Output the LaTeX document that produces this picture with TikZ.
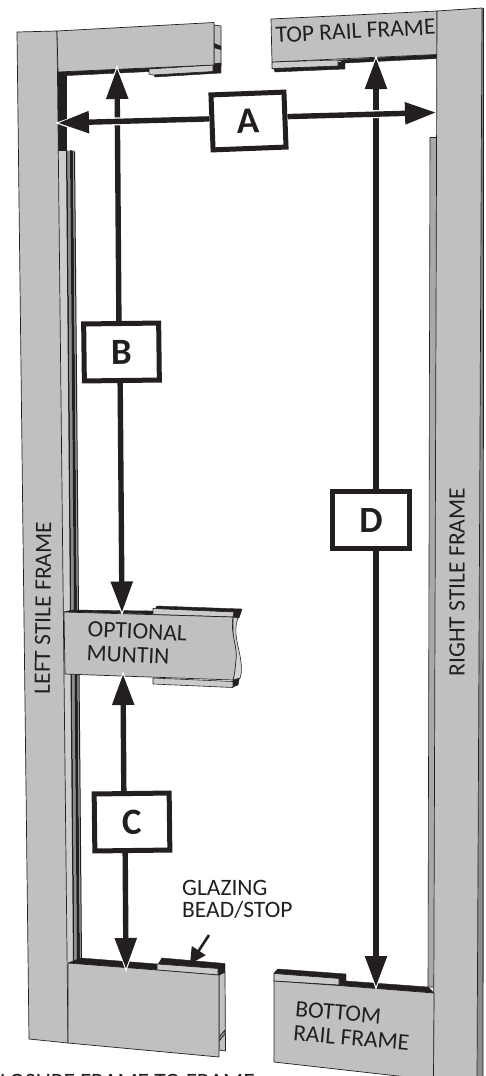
\documentclass[tikz,border=0pt]{standalone}
\usepackage{fontspec}
\setmainfont{Carlito}
\usetikzlibrary{arrows.meta}
\definecolor{ink}{HTML}{231F20}
\definecolor{panel}{HTML}{C0C0C0}
\definecolor{midg}{HTML}{8C8C8C}
\definecolor{lightg}{HTML}{D2D2D2}
\tikzset{
  frameface/.style={fill=panel,draw=ink,line width=0.7pt,line join=round},
  beadface/.style={fill=lightg!60!panel,draw=ink,line width=0.6pt,line join=round},
  darkpart/.style={fill=ink,draw=ink,line width=0.4pt,line join=round},
  label/.style={font=\fontsize{23.5}{24}\selectfont,text=ink,inner sep=0pt,align=left},
  letterbox/.style={draw=ink,fill=white,line width=5pt,inner sep=0pt,
    font=\fontsize{37}{40}\bfseries\selectfont,text=ink},
  dim/.style={draw=ink,line width=5.4pt,-{Triangle[length=31pt,width=21pt,fill=ink]}},
  halo/.style={preaction={draw=white,line width=8pt}},
  tipmark/.style={fill=white,draw=none}
}
\begin{document}
\begin{tikzpicture}[x=1pt,y=-1pt]
\useasboundingbox (0,0) rectangle (485,1076);
\clip (0,0) rectangle (485,1076);
\fill[white] (0,0) rectangle (485,1076);

% left glazing strips
\fill[lightg!70!panel] (58,150) -- (75,150) -- (82,962) -- (66,962) -- cycle;
\fill[ink] (66,151) -- (67.5,151) -- (74.5,962) -- (73,962) -- cycle;
\fill[midg] (67.5,151) -- (70,151) -- (77,962) -- (74.5,962) -- cycle;
\fill[ink] (70,150) -- (73,151) -- (80,962) -- (77,962) -- cycle;
\fill[midg!70!panel] (73,151) -- (74,151) -- (81,962) -- (80,962) -- cycle;
\fill[ink] (74,151) -- (75,152) -- (82,962) -- (81,962) -- cycle;
\fill[ink] (58,72) -- (67,72) -- (67,151) -- (58,151) -- cycle;

% left stile
\draw[frameface] (17,32) -- (57,31) -- (68,1043) -- (29,1039) -- cycle;

% top left rail
\draw[frameface] (214,25) -- (221,26) -- (221,66) -- (214,66) -- cycle;
\fill[ink] (214,43) -- (221,46) -- (221,50) -- (214,48) -- cycle;
\draw[darkpart] (155,77) -- (221,73) -- (221,63) -- (150,68) -- cycle;
\draw[darkpart] (58,72) -- (150,68) -- (150,71.5) -- (58,76) -- cycle;
\draw[beadface] (149,69) -- (213,65) -- (213,71.5) -- (152,75) -- (149,74) -- cycle;
\draw[frameface] (57,31) -- (214,22.5) -- (214,65) -- (58,72) -- cycle;

% top right rail
\draw[darkpart] (275,72) -- (345,69) -- (345,62) -- (272,64) -- cycle;
\draw[darkpart] (338,60) -- (437,54.5) -- (437,58.5) -- (345,63) -- cycle;
\draw[beadface] (272,62) -- (338,60) -- (338,66) -- (272,68.5) -- cycle;
\draw[frameface] (271,19) -- (437,11) -- (437,54.5) -- (272,62) -- cycle;

% right glazing strip
\draw[fill=panel!88!black,draw=ink,line width=0.6pt] (430,137.5) -- (437,137.5) -- (435,987) -- (428,987) -- cycle;

% right stile
\fill[midg] (482,8) -- (483.5,8) -- (483,1076) -- (477,1076) -- cycle;
\draw[ink,line width=0.9pt] (483.5,8) -- (483,1076);
\draw[frameface] (437,11) -- (482,8) -- (477,1080) -- (433.5,1080) -- cycle;

% muntin
\draw[darkpart] (73,610) -- (153,611) -- (153,614) -- (64,612) -- cycle;
\draw[darkpart] (157,606) -- (242,609) -- (239,618) -- (153,612) -- cycle;
\draw[beadface] (153,608.5) -- (234,612) -- (233,617) -- (153,614.5) -- cycle;
\draw[darkpart] (233,680) -- (240,675) -- (238,685) -- (233,687) -- cycle;
\draw[beadface] (153,678) -- (233,681.5) -- (233,687.5) -- (153,684) -- cycle;
\draw[fill=lightg,draw=ink,line width=0.6pt] (238,618) .. controls (232,632) and (240,650) .. (241,662) .. controls (242,672) and (241,676) .. (240,678) -- (233,680) -- (233,617) -- cycle;
\draw[frameface] (64,612) -- (233,617) .. controls (230,632) and (238,648) .. (236,660) .. controls (235,668) and (235,674) .. (233,680) -- (65,674) -- cycle;

% bottom left rail
\draw[frameface] (219,975) -- (225,972) -- (225.5,1051) -- (219,1050) -- cycle;
\draw[ink,line width=0.7pt,fill=midg] (219,1037) -- (225,1030) -- (225,1034) -- (219,1041) -- cycle;
\draw[darkpart] (81,958) -- (157,964) -- (157,970) -- (68,963) -- cycle;
\draw[darkpart] (162,958) -- (225,963.5) -- (225,972) -- (218,975) -- (157,966) -- cycle;
\draw[beadface] (157,964) -- (218,968.5) -- (218,975) -- (157,970) -- cycle;
\draw[frameface] (68,963) -- (157,970) -- (219,975) -- (219,1057) -- (68,1043) -- cycle;

% bottom right rail
\draw[darkpart] (278,969) -- (346,974) -- (346,981) -- (428,987) -- (434,993) -- (274,981) -- (274,973) -- cycle;
\draw[beadface] (274,973.5) -- (339,978.5) -- (339,985) -- (274,981) -- cycle;
\draw[frameface] (274,981) -- (339,985.5) -- (434,993) -- (433.5,1080) -- (274,1062) -- cycle;

% texts
\node[label,rotate=89.5] (leftstile) at (43,608) {LEFT STILE FRAME};
\node[label,rotate=90] (rightstile) at (457,582) {RIGHT STILE FRAME};
\node[label,rotate=3] (toprail) at (355.5,31) {TOP RAIL FRAME};
\node[label,rotate=-2.7,anchor=north west] (muntin) at (88,621) {OPTIONAL\\MUNTIN};
\node[label,rotate=-5,anchor=north west] (bottomrail) at (296,1001) {BOTTOM\\RAIL FRAME};
\node[label,anchor=north west] (glazing) at (182,880) {GLAZING\\[-2pt]BEAD/STOP};
\node[label,anchor=base east] (closure) at (255,1089) {CLOSURE FRAME TO FRAME};

% dimension labels
\node[letterbox,rotate=2.2,minimum width=73pt,minimum height=55pt] (boxA) at (248.5,121) {A};
\node[letterbox,rotate=0.7,minimum width=75pt,minimum height=57pt] (boxB) at (121.5,352) {B};
\node[letterbox,rotate=0.7,minimum width=75pt,minimum height=57pt] (boxC) at (132,822) {C};
\node[letterbox,rotate=0,minimum width=77pt,minimum height=57pt] (boxD) at (371,520) {D};

\coordinate (tipBtop) at (117,68);
\coordinate (tipBbot) at (122,612.5);
\coordinate (tipCtop) at (123,674);
\coordinate (tipCbot) at (126,969);
\coordinate (tipDtop) at (376,58);
\coordinate (tipDbot) at (376,987);
\coordinate (tipAleft) at (58,123);
\coordinate (tipAright) at (436,112.5);
\coordinate (glazetail) at (209,935);
\coordinate (glazetip) at (190,964);

% pale rims where the arrow tips meet the dark channels
\fill[tipmark] (tipBtop) ++(0,-3) -- ++(4.5,13) -- ++(-9,0) -- cycle;
\fill[tipmark] (tipBbot) ++(0,3) -- ++(4.5,-13) -- ++(-9,0) -- cycle;
\fill[tipmark] (tipCtop) ++(0,-3) -- ++(4.5,13) -- ++(-9,0) -- cycle;
\fill[tipmark] (tipCbot) ++(0,3) -- ++(4.5,-13) -- ++(-9,0) -- cycle;
\fill[tipmark] (tipDtop) ++(0,-3) -- ++(4.5,13) -- ++(-9,0) -- cycle;
\fill[tipmark] (tipDbot) ++(0,3) -- ++(4.5,-13) -- ++(-9,0) -- cycle;
\fill[tipmark] (tipAleft) ++(-3,0) -- ++(13,4.5) -- ++(0,-9) -- cycle;

\draw[dim] ([xshift=-2.2pt]boxB.north) -- (tipBtop);
\draw[dim] ([xshift=-1.7pt]boxB.south) -- (tipBbot);
\draw[dim] ([xshift=-7.8pt]boxC.north) -- (tipCtop);
\draw[dim] ([xshift=-7.2pt]boxC.south) -- (tipCbot);
\draw[dim] ([xshift=5pt]boxD.north) -- (tipDtop);
\draw[dim] ([xshift=5pt]boxD.south) -- (tipDbot);
\draw[dim,halo] ([yshift=3.6pt]boxA.west) -- (tipAleft);
\draw[dim,halo] ([yshift=2.9pt]boxA.east) -- (tipAright);
\draw[draw=ink,line width=2.6pt,-{Triangle[length=16pt,width=16pt,fill=ink]}] (glazetail) -- (glazetip);
\end{tikzpicture}
\end{document}
